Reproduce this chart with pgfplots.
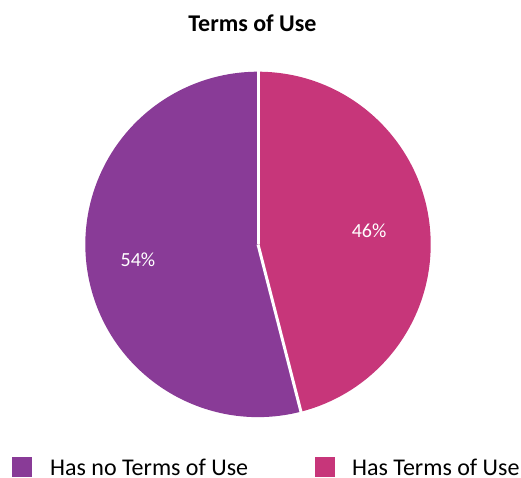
\documentclass[border=0pt]{standalone}
\usepackage{pgfplots}
\usepackage{pgfplotstable}
\pgfplotsset{compat=1.18}
\usetikzlibrary{calc}
\usepackage{fontspec}
\setmainfont{Carlito}
\definecolor{cpurple}{RGB}{137,59,151}
\definecolor{cpink}{RGB}{199,54,122}
\pgfplotstableread{
label value
{Has no Terms of Use} 54
{Has Terms of Use} 46
}\piedata
\begin{document}
\begin{tikzpicture}
\pgfplotstablegetelem{0}{value}\of\piedata \edef\va{\pgfplotsretval}
\pgfplotstablegetelem{1}{value}\of\piedata \edef\vb{\pgfplotsretval}
\pgfmathsetmacro{\aB}{90-3.6*\vb}
\pgfmathsetmacro{\aA}{\aB-3.6*\va}
\pgfmathsetmacro{\mB}{90-1.8*\vb}
\pgfmathsetmacro{\mA}{\aB-1.8*\va}
\begin{axis}[width=521pt,height=477pt,scale only axis,hide axis,
  xmin=0,xmax=521,ymin=0,ymax=477,clip=false]
\path (axis cs:0,0) rectangle (axis cs:521,477);
% slices
\fill[cpink] (axis cs:258,232.6) -- (axis cs:258,405.3) arc[start angle=90, end angle=\aB, radius=172.7pt] -- cycle;
\fill[cpurple] (axis cs:258,232.6) -- ++(\aB:172.7pt) arc[start angle=\aB, end angle=\aA, radius=172.7pt] -- cycle;
% separators
\draw[white, line width=3pt] (axis cs:258,232.6) -- ++(90:173.5pt);
\draw[white, line width=3pt] (axis cs:258,232.6) -- ++(\aB:173.5pt);
% labels
\node[text=white, font=\fontsize{20}{24}\selectfont] at ($(axis cs:258,232.6)+(\mB:112pt)$) {\vb\%};
\node[text=white, font=\fontsize{20}{24}\selectfont] at ($(axis cs:258,232.6)+(\mA:121pt)$) {\va\%};
% title
\node[anchor=base, font=\fontsize{24}{28}\selectfont\bfseries] at (axis cs:252.5,445) {Terms of Use};
% legend
\fill[cpurple] (axis cs:12,0) rectangle (axis cs:32,20);
\node[anchor=base west, inner sep=0pt, font=\fontsize{24}{28}\selectfont] at (axis cs:50,2) {Has no Terms of Use};
\fill[cpink] (axis cs:315,0) rectangle (axis cs:335,20);
\node[anchor=base west, inner sep=0pt, font=\fontsize{24}{28}\selectfont] at (axis cs:352,2) {Has Terms of Use};
\end{axis}
\end{tikzpicture}
\end{document}
